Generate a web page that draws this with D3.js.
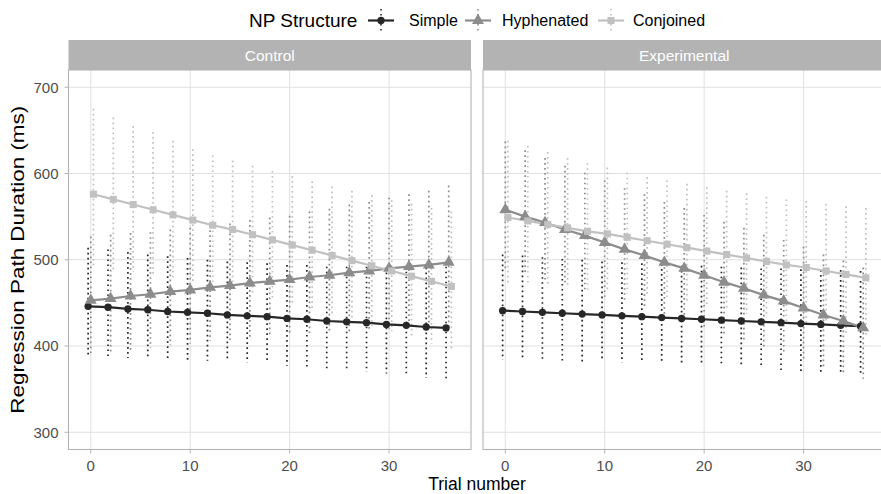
<!DOCTYPE html>
<html>
<head>
<meta charset="utf-8">
<script src="https://cdn.jsdelivr.net/npm/d3@7"></script>
<style>
  body { margin: 0; background: #fff; }
  text { font-family: "Liberation Sans", Arial, sans-serif; }
</style>
</head>
<body>
<svg id="chart"></svg>
<script>
let width = 881;
let height = 494;

// data
const trials = [0, 2, 4, 6, 8, 10, 12, 14, 16, 18, 20, 22, 24, 26, 28, 30, 32, 34, 36];
const structures = ['Simple', 'Hyphenated', 'Conjoined'];
const conditions = ['Control', 'Experimental'];
const xTicks = [0, 10, 20, 30];
const yTicks = [300, 400, 500, 600, 700];

// Control
const controlSimpleMean = [446, 445, 443, 442, 440, 439, 438, 436, 435, 434, 432, 431, 429, 428, 427, 425, 424, 422, 421];
const controlSimpleLow  = [387, 387, 386, 386, 384, 384, 383, 382, 381, 380, 377, 376, 374, 372, 370, 368, 366, 363, 361];
const controlSimpleHigh = [514, 512, 509, 506, 504, 502, 500, 498, 497, 496, 494, 494, 492, 492, 492, 491, 492, 491, 492];

const controlHyphMean = [453, 455, 458, 460, 463, 465, 468, 470, 473, 475, 477, 480, 482, 485, 487, 490, 492, 494, 497];
const controlHyphLow  = [389, 392, 395, 398, 401, 403, 406, 407, 410, 411, 413, 415, 416, 417, 418, 420, 420, 421, 421];
const controlHyphHigh = [527, 529, 531, 532, 535, 537, 540, 542, 546, 549, 551, 556, 559, 564, 567, 572, 576, 580, 586];

const controlConjMean = [576, 570, 564, 558, 552, 546, 540, 535, 529, 523, 517, 511, 505, 499, 493, 487, 481, 475, 469];
const controlConjLow  = [491, 489, 486, 481, 478, 475, 470, 465, 459, 454, 448, 442, 436, 430, 423, 417, 410, 403, 396];
const controlConjHigh = [675, 665, 655, 648, 638, 628, 621, 615, 609, 603, 597, 591, 585, 580, 575, 569, 565, 560, 556];

// Experimental
const expSimpleMean = [441, 440, 439, 438, 437, 436, 435, 434, 433, 432, 431, 430, 429, 428, 427, 426, 425, 424, 423];
const expSimpleLow  = [384, 384, 383, 383, 382, 382, 381, 380, 379, 378, 377, 376, 375, 374, 372, 371, 370, 369, 367];
const expSimpleHigh = [506, 505, 503, 501, 500, 498, 497, 496, 495, 493, 493, 492, 491, 490, 490, 489, 488, 488, 487];

const expHyphMean = [558, 550, 543, 535, 528, 520, 512, 505, 497, 490, 482, 474, 467, 459, 452, 444, 436, 429, 421];
const expHyphLow  = [489, 483, 477, 470, 464, 457, 450, 443, 436, 429, 421, 413, 406, 398, 391, 383, 376, 369, 362];
const expHyphHigh = [637, 627, 618, 609, 601, 592, 583, 576, 567, 560, 552, 544, 537, 529, 523, 515, 506, 499, 491];

const expConjMean = [549, 545, 541, 537, 533, 530, 526, 522, 518, 514, 510, 506, 502, 498, 494, 491, 487, 483, 479];
const expConjLow  = [473, 470, 468, 467, 464, 463, 461, 457, 453, 449, 445, 441, 437, 433, 428, 424, 420, 415, 410];
const expConjHigh = [638, 632, 625, 618, 612, 607, 601, 596, 592, 588, 584, 580, 577, 573, 570, 568, 565, 562, 560];

const panelData = {
  Control: {
    Simple: [controlSimpleMean, controlSimpleLow, controlSimpleHigh],
    Hyphenated: [controlHyphMean, controlHyphLow, controlHyphHigh],
    Conjoined: [controlConjMean, controlConjLow, controlConjHigh]
  },
  Experimental: {
    Simple: [expSimpleMean, expSimpleLow, expSimpleHigh],
    Hyphenated: [expHyphMean, expHyphLow, expHyphHigh],
    Conjoined: [expConjMean, expConjLow, expConjHigh]
  }
};

// layout
const panelLeft = [68.5, 483];
const panelW = 402.5;
const panelTop = 70;
const panelBottom = 449.5;
const stripH = 30;

const colorScale = d3.scaleOrdinal().domain(structures).range(['#272727', '#8c8c8c', '#c1c1c1']);
const symbolScale = d3.scaleOrdinal().domain(structures)
  .range([d3.symbolCircle, d3.symbolTriangle, d3.symbolSquare]);
const symbolSize = d3.scaleOrdinal().domain(structures).range([42, 62, 50]);

// dodge like position_dodge(width = 0.8)
const dodge = d3.scaleBand().domain(structures).range([-0.4, 0.4]);

let xScale = d3.scaleLinear().domain([-2.24, 38.24]).range([0, panelW]);
let yScale = d3.scaleLinear().domain([280, 720]).range([panelBottom, panelTop]);

const svg = d3.select('#chart').attr('width', width).attr('height', height);

conditions.forEach((cond, pi) => {
  const g = svg.append('g').attr('transform', `translate(${panelLeft[pi]},0)`);

  // strip
  g.append('rect')
    .attr('x', 0).attr('y', panelTop - stripH)
    .attr('width', panelW).attr('height', stripH)
    .attr('fill', '#b3b3b3');
  g.append('text')
    .attr('x', panelW / 2).attr('y', panelTop - stripH / 2 + 5.5)
    .attr('text-anchor', 'middle')
    .attr('fill', '#fff')
    .attr('font-size', 15.5)
    .text(cond);

  // grid
  g.selectAll('.gx').data(xTicks).enter().append('line')
    .attr('x1', d => xScale(d)).attr('x2', d => xScale(d))
    .attr('y1', panelTop).attr('y2', panelBottom)
    .attr('stroke', '#e0e0e0').attr('stroke-width', 1);
  g.selectAll('.gy').data(yTicks).enter().append('line')
    .attr('x1', 0).attr('x2', panelW)
    .attr('y1', d => yScale(d)).attr('y2', d => yScale(d))
    .attr('stroke', '#e0e0e0').attr('stroke-width', 1);

  // x ticks + labels
  g.selectAll('.tx').data(xTicks).enter().append('line')
    .attr('x1', d => xScale(d)).attr('x2', d => xScale(d))
    .attr('y1', panelBottom).attr('y2', panelBottom + 4)
    .attr('stroke', '#b3b3b3');
  g.selectAll('.lx').data(xTicks).enter().append('text')
    .attr('x', d => xScale(d)).attr('y', panelBottom + 21)
    .attr('text-anchor', 'middle')
    .attr('fill', '#4d4d4d')
    .attr('font-size', 15)
    .text(d => d);

  // ranges (dotted)
  structures.forEach(s => {
    const [mean, low, high] = panelData[cond][s];
    const off = dodge(s) + dodge.bandwidth() / 2;
    g.selectAll(null).data(trials).enter().append('line')
      .attr('x1', (d, i) => xScale(d + off)).attr('x2', (d, i) => xScale(d + off))
      .attr('y1', (d, i) => yScale(high[i])).attr('y2', (d, i) => yScale(low[i]))
      .attr('stroke', colorScale(s))
      .attr('stroke-width', 1.7)
      .attr('stroke-dasharray', '1.7 3.3');
  });

  // lines
  structures.forEach(s => {
    const [mean] = panelData[cond][s];
    const off = dodge(s) + dodge.bandwidth() / 2;
    const line = d3.line()
      .x((d, i) => xScale(d + off))
      .y((d, i) => yScale(mean[i]));
    g.append('path')
      .datum(trials)
      .attr('d', line)
      .attr('fill', 'none')
      .attr('stroke', colorScale(s))
      .attr('stroke-width', 2.2);
  });

  // points
  structures.forEach(s => {
    const [mean] = panelData[cond][s];
    const off = dodge(s) + dodge.bandwidth() / 2;
    g.selectAll(null).data(trials).enter().append('path')
      .attr('d', d3.symbol().type(symbolScale(s)).size(symbolSize(s)))
      .attr('transform', (d, i) => `translate(${xScale(d + off)},${yScale(mean[i])})`)
      .attr('fill', colorScale(s));
  });

  // border
  g.append('rect')
    .attr('x', 0).attr('y', panelTop)
    .attr('width', panelW).attr('height', panelBottom - panelTop)
    .attr('fill', 'none')
    .attr('stroke', '#b3b3b3').attr('stroke-width', 1.1);
});

// y axis ticks + labels
svg.selectAll('.ty').data(yTicks).enter().append('line')
  .attr('x1', panelLeft[0] - 4).attr('x2', panelLeft[0])
  .attr('y1', d => yScale(d)).attr('y2', d => yScale(d))
  .attr('stroke', '#b3b3b3');
svg.selectAll('.ly').data(yTicks).enter().append('text')
  .attr('x', panelLeft[0] - 10).attr('y', d => yScale(d) + 5.3)
  .attr('text-anchor', 'end')
  .attr('fill', '#4d4d4d')
  .attr('font-size', 15)
  .text(d => d);

// axis titles
svg.append('text')
  .attr('x', (panelLeft[0] + panelLeft[1] + panelW) / 2).attr('y', 490)
  .attr('text-anchor', 'middle')
  .attr('font-size', 17.5)
  .text('Trial number');
svg.append('text')
  .attr('transform', `translate(24,${(panelTop + panelBottom) / 2}) rotate(-90)`)
  .attr('text-anchor', 'middle')
  .attr('font-size', 18.5)
  .attr('textLength', 308)
  .attr('lengthAdjust', 'spacingAndGlyphs')
  .text('Regression Path Duration (ms)');

// legend
const legend = svg.append('g');
legend.append('text')
  .attr('x', 249).attr('y', 26.5)
  .attr('font-size', 19)
  .text('NP Structure');
const keyX = [381, 478, 611];
const labelX = [409, 502, 633];
structures.forEach((s, i) => {
  legend.append('line')
    .attr('x1', keyX[i]).attr('x2', keyX[i])
    .attr('y1', 9).attr('y2', 31)
    .attr('stroke', colorScale(s)).attr('stroke-width', 1.6)
    .attr('stroke-dasharray', '1.6 3.4');
  legend.append('line')
    .attr('x1', keyX[i] - 13).attr('x2', keyX[i] + 13)
    .attr('y1', 20.5).attr('y2', 20.5)
    .attr('stroke', colorScale(s)).attr('stroke-width', 2.2);
  legend.append('path')
    .attr('d', d3.symbol().type(symbolScale(s)).size(symbolSize(s)))
    .attr('transform', `translate(${keyX[i]},20.5)`)
    .attr('fill', colorScale(s));
  legend.append('text')
    .attr('x', labelX[i]).attr('y', 26)
    .attr('font-size', 16)
    .text(s);
});
</script>
</body>
</html>
